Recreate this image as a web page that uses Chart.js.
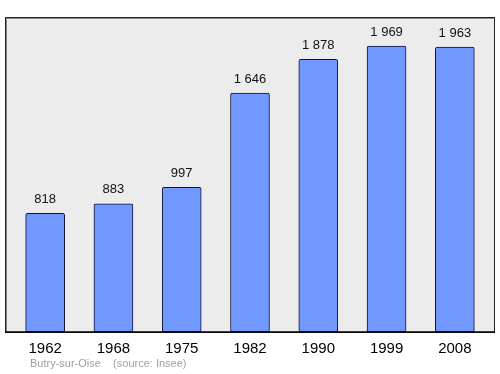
<!DOCTYPE html>
<html>
<head>
<meta charset="utf-8">
<script src="https://cdn.jsdelivr.net/npm/chart.js@4/dist/chart.umd.min.js"></script>
<style>
  html, body { margin: 0; padding: 0; background: #fff; }
  #wrap { width: 500px; height: 374px; }
</style>
</head>
<body>
<div id="wrap"><canvas id="chart" width="500" height="374"></canvas></div>
<script>
var years = ["1962", "1968", "1975", "1982", "1990", "1999", "2008"];
var population = [818, 883, 997, 1646, 1878, 1969, 1963];
var footerText = "Butry-sur-Oise    (source: Insee)";

function fmt(n){
	var s = String(n);
	return s.replace(/\B(?=(\d{3})+(?!\d))/g, " ");
}

var frame_plugin = {
	id: 'frame',
	beforeDraw: function(chart){
		var a = chart.chartArea, ctx = chart.ctx;
		var l = a.left - 6, r = a.right + 6;
		ctx.save();
		ctx.fillStyle = "#ececec";
		ctx.fillRect(l, a.top, r - l, a.bottom - a.top);
		ctx.strokeStyle = "#222";
		ctx.lineWidth = 1;
		ctx.strokeRect(l + 0.5, a.top + 0.5, r - l - 1, a.bottom - a.top);
		ctx.strokeStyle = "#888";
		ctx.beginPath();
		ctx.moveTo(l + 1.5, a.bottom);
		ctx.lineTo(l + 1.5, a.top + 1.5);
		ctx.lineTo(r - 1, a.top + 1.5);
		ctx.stroke();
		ctx.restore();
	},
	afterDatasetsDraw: function(chart){
		var ctx = chart.ctx, a = chart.chartArea;
		var meta = chart.getDatasetMeta(0);
		ctx.save();
		ctx.fillStyle = "#111";
		ctx.font = "13px 'Liberation Sans', sans-serif";
		ctx.textAlign = "center";
		ctx.textBaseline = "middle";
		meta.data.forEach(function(bar, i){
			ctx.fillText(fmt(population[i]), bar.x, bar.y - 14);
		});
		// bottom line
		ctx.strokeStyle = "#000";
		ctx.lineWidth = 1.5;
		ctx.beginPath();
		ctx.moveTo(a.left - 6, a.bottom);
		ctx.lineTo(a.right + 6, a.bottom);
		ctx.stroke();
		ctx.fillStyle = "#a0a0a0";
		ctx.font = "11px 'Liberation Sans', sans-serif";
		ctx.textAlign = "left";
		ctx.fillText(footerText, 30, 364);
		ctx.restore();
	}
};

new Chart(document.getElementById('chart'), {
	type: 'bar',
	data: {
		labels: years,
		datasets: [{
			data: population,
			backgroundColor: "#7198ff",
			borderColor: "#111133",
			borderWidth: 1,
			borderRadius: 2,
			borderSkipped: false,
			barThickness: 39
		}]
	},
	options: {
		responsive: false,
		animation: false,
		layout: { padding: { top: 17, bottom: 8, left: 11, right: 11 } },
		plugins: { legend: { display: false }, tooltip: { enabled: false } },
		scales: {
			x: {
				grid: { display: false, drawTicks: false },
				border: { display: false },
				ticks: {
					color: "#000",
					padding: 8,
					font: { family: "'Liberation Sans', sans-serif", size: 15 }
				}
			},
			y: {
				display: false,
				min: 0,
				max: 2170
			}
		}
	},
	plugins: [frame_plugin]
});
</script>
</body>
</html>
